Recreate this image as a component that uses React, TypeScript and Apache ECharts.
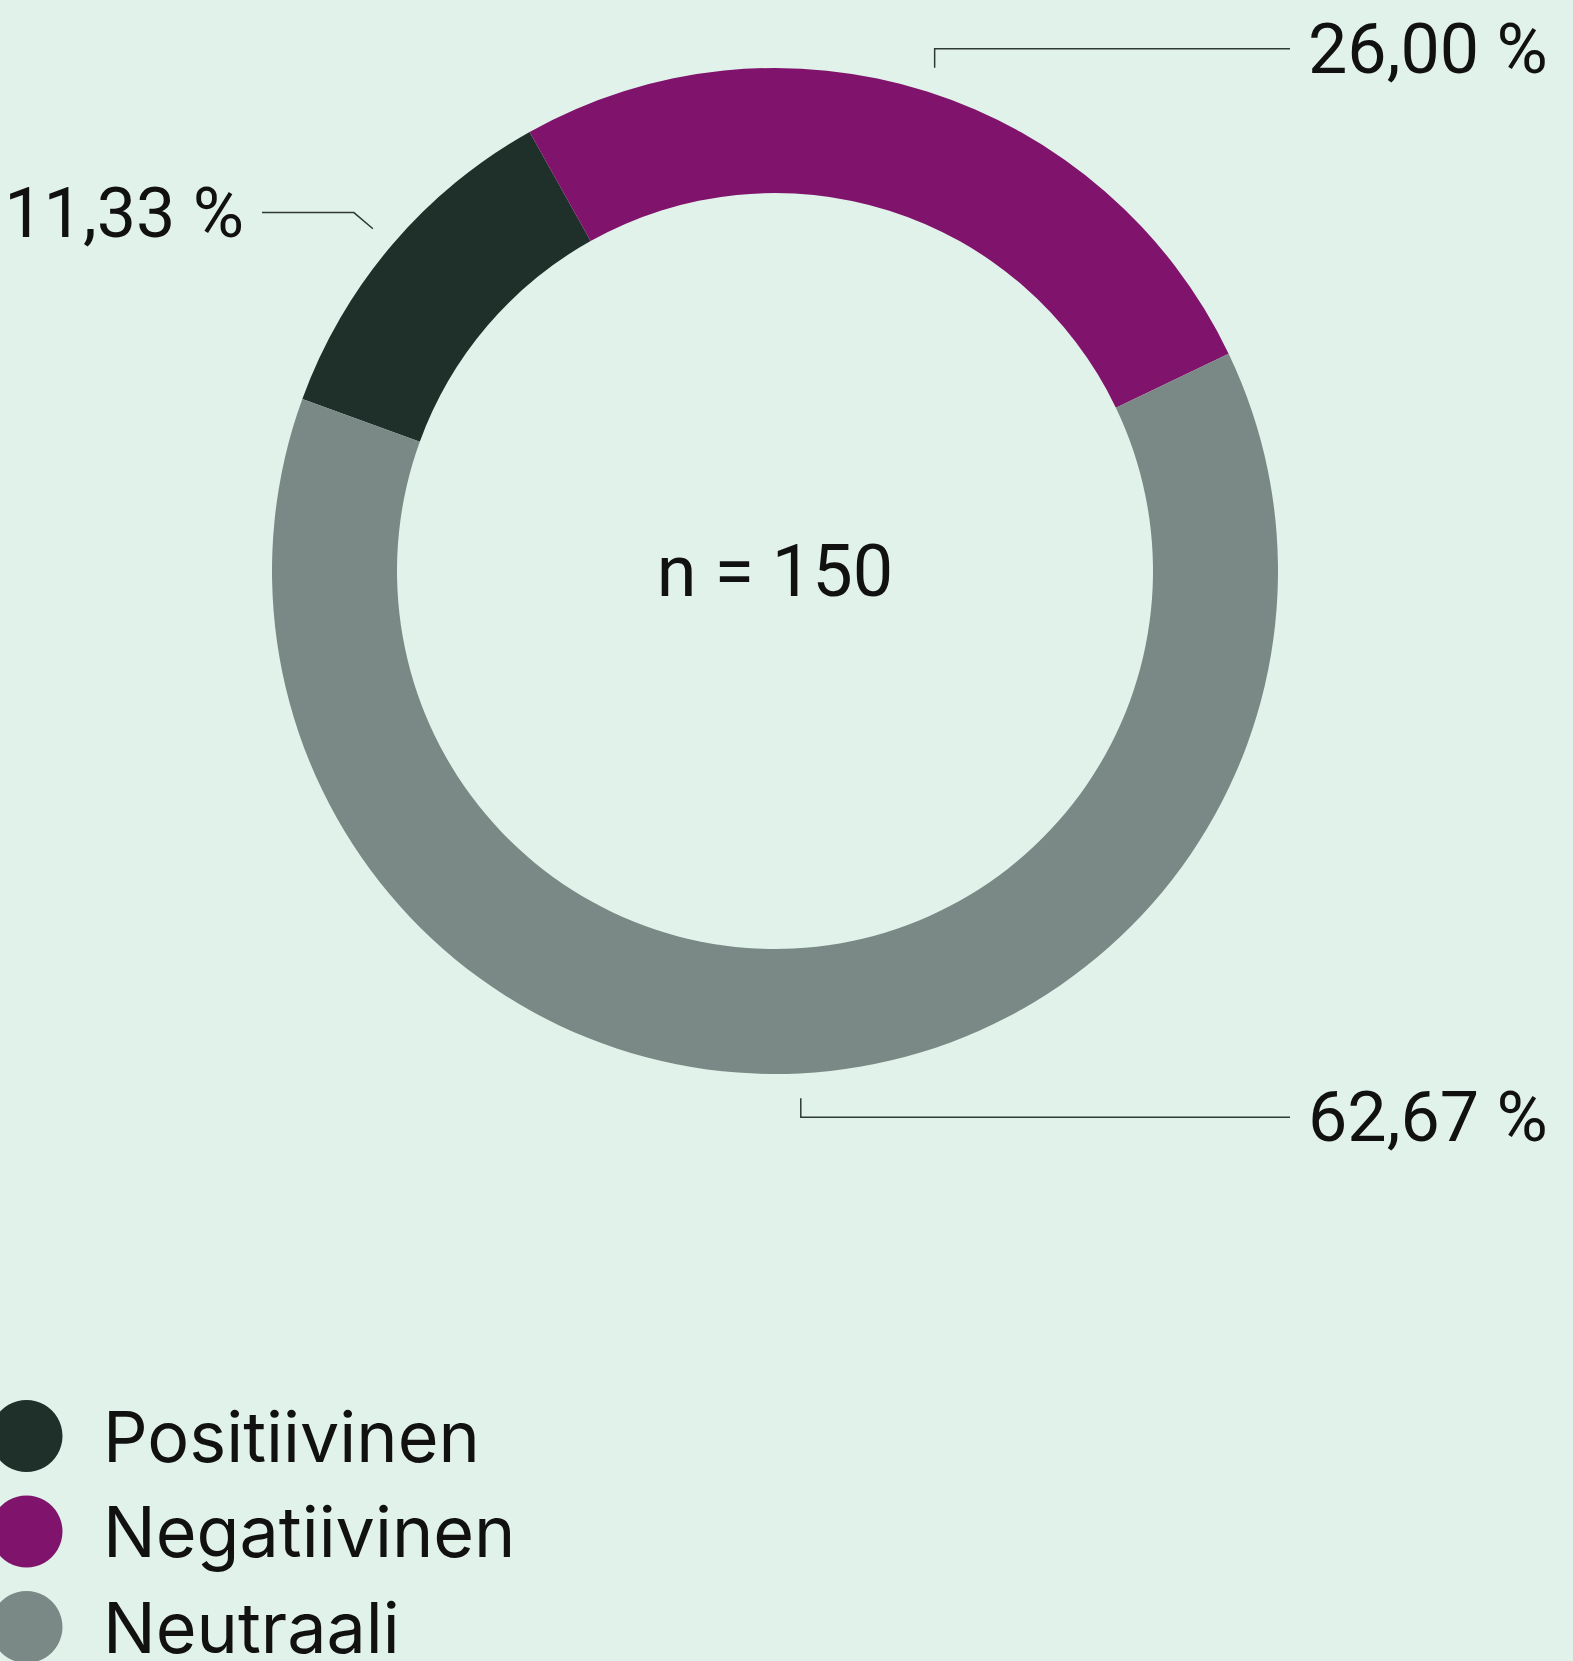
import React, { useEffect, useRef } from "react";
import * as echarts from "echarts";

const categories = ["Positiivinen", "Negatiivinen", "Neutraali"];
const counts = [17, 39, 94];
const totalN = 150;
const colors = ["#1F2F2A", "#80136C", "#7A8985"];

const W = 1573;
const H = 1661;
const FONT = "Inter, 'Noto Sans', sans-serif";
const LABEL_FONT = "Roboto, 'Liberation Sans', sans-serif";

export default function App() {
  const ref = useRef<HTMLDivElement>(null);
  useEffect(() => {
    if (!ref.current) return;
    const chart = echarts.init(ref.current, undefined, { renderer: "svg" });
    const GAP = 25;
    const SEG_V = 19;
    const SEG_D = 25;
    const RIGHT_END = 1290;
    const LEFT_END = 262;
    const TEXT_GAP = 18;
    chart.setOption({
      animation: false,
      backgroundColor: "#E1F2EA",
      color: colors,
      graphic: [
        {
          type: "text",
          x: 775,
          y: 571,
          style: {
            text: "n = " + totalN,
            fontSize: 72,
            fontFamily: LABEL_FONT,
            fill: "#111",
            textAlign: "center",
            textVerticalAlign: "middle",
          },
        },
      ],
      legend: {
        orient: "vertical",
        left: -9.5,
        top: 1400,
        height: 320,
        padding: 0,
        itemWidth: 143,
        itemHeight: 72,
        itemGap: 23.5,
        icon: "circle",
        selectedMode: false,
        textStyle: { fontSize: 70, fontFamily: FONT, color: "#111", lineHeight: 72 },
        data: categories,
      },
      series: [
        {
          type: "pie",
          center: [775, 571],
          radius: [378, 503],
          startAngle: 160,
          clockwise: true,
          avoidLabelOverlap: false,
          silent: true,
          data: categories.map((c, i) => ({ name: c, value: counts[i] })),
          label: {
            show: true,
            formatter: (p: any) => p.percent.toFixed(2).replace(".", ",") + " %",
            fontSize: 70,
            fontFamily: LABEL_FONT,
            color: "#111",
          },
          labelLine: {
            show: true,
            length: 30,
            length2: 30,
            lineStyle: { color: "#2F3A36", width: 1.5 },
          },
          labelLayout: (params: any) => {
            const pts = params.labelLinePoints;
            if (!pts || pts.length < 2) return {};
            const p0 = pts[0];
            const p1 = pts[1];
            let dx = p1[0] - p0[0];
            let dy = p1[1] - p0[1];
            const len = Math.hypot(dx, dy) || 1;
            dx /= len;
            dy /= len;
            const start = [p0[0] + dx * GAP, p0[1] + dy * GAP];
            const bend =
              Math.abs(dx) < 0.5
                ? [start[0], start[1] + Math.sign(dy) * SEG_V]
                : [start[0] + dx * SEG_D, start[1] + dy * SEG_D];
            const right = dx >= 0;
            const endX = right ? RIGHT_END : LEFT_END;
            const end = [endX, bend[1]];
            return {
              x: right ? endX + TEXT_GAP : endX - TEXT_GAP,
              y: bend[1],
              align: right ? "left" : "right",
              verticalAlign: "middle",
              labelLinePoints: [start, bend, end],
            };
          },
        },
      ],
    });
    return () => chart.dispose();
  }, []);
  return (
    <div
      ref={ref}
      style={{ position: "absolute", left: 0, top: 0, width: W, height: H }}
    />
  );
}
